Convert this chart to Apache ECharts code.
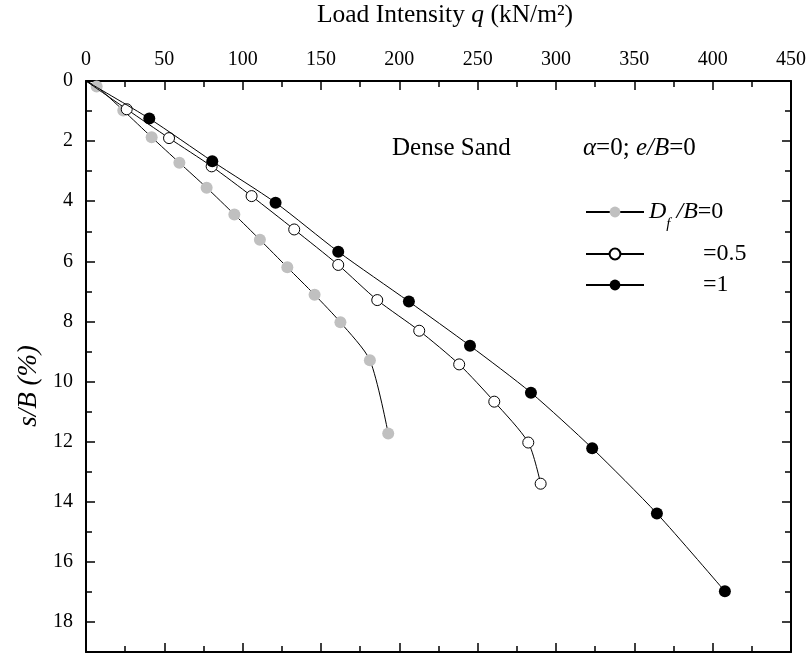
<!DOCTYPE html>
<html>
<head>
<meta charset="utf-8">
<script src="https://cdn.jsdelivr.net/npm/echarts@6/dist/echarts.min.js"></script>
<style>
html,body{margin:0;padding:0;background:#fff;}
#chart{width:812px;height:655px;}
</style>
</head>
<body>
<div id="chart"></div>
<script>
// ---- data ----
var seriesNames = ['Df/B=0', 'Df/B=0.5', 'Df/B=1'];
var qDf0  = [0, 6.8, 23.8, 41.9, 59.6, 77.0, 94.7, 111.0, 128.5, 145.9, 162.4, 181.2, 192.9];
var sDf0  = [0, 0.18, 0.98, 1.87, 2.72, 3.55, 4.44, 5.28, 6.20, 7.11, 8.03, 9.29, 11.73];
var qDf05 = [0, 26.0, 53.0, 80.2, 105.7, 132.9, 161.0, 185.9, 212.7, 238.2, 260.6, 282.3, 290.2];
var sDf05 = [0, 0.94, 1.90, 2.84, 3.83, 4.94, 6.12, 7.29, 8.31, 9.43, 10.67, 12.03, 13.40];
var qDf1  = [0, 40.4, 80.6, 121.0, 161.0, 206.1, 245.1, 284.0, 323.1, 364.4, 407.8];
var sDf1  = [0, 1.25, 2.67, 4.05, 5.68, 7.34, 8.81, 10.37, 12.22, 14.39, 16.98];
var xTicks = {min: 0, max: 450, interval: 50};
var yTicks = {min: 0, max: 19, interval: 2};
var xTitle = 'Load Intensity ';
var yTitle = 's/B (%)';

var FONT = '"Liberation Serif", "Times New Roman", serif';

function pairs(qs, ss) {
  return qs.map(function (q, i) {
    if (i === 0) return {value: [q, ss[i]], symbol: 'none'};
    return [q, ss[i]];
  });
}

var chart = echarts.init(document.getElementById('chart'), null, {renderer: 'canvas'});

var tickCommon = {
  axisLine: {show: true, onZero: false, lineStyle: {color: '#000', width: 2}},
  axisTick: {show: true, inside: true, length: 9, lineStyle: {color: '#000', width: 1.5}},
  minorTick: {show: true, splitNumber: 2, length: 6, lineStyle: {color: '#000', width: 1.5}},
  splitLine: {show: false}
};

function legendFor(idx, left, top, fmt) {
  return {
    show: true,
    data: [seriesNames[idx]],
    left: left, top: top,
    orient: 'vertical',
    padding: 0,
    itemWidth: 58,
    itemHeight: 13.5,
    itemGap: 0,
    selectedMode: false,
    textStyle: {
      fontFamily: FONT, fontSize: 24, color: '#000',
      rich: {
        i: {fontFamily: FONT, fontSize: 24, fontStyle: 'italic', color: '#000'},
        n: {fontFamily: FONT, fontSize: 24, color: '#000'},
        sub: {fontFamily: FONT, fontSize: 15, fontStyle: 'italic', color: '#000', padding: [24, 0, 0, 0]},
        pad: {width: 54}
      }
    },
    formatter: function () { return fmt; }
  };
}

var option = {
  backgroundColor: '#fff',
  animation: false,
  grid: {left: 86, right: 21, top: 81, bottom: 3, containLabel: false},
  xAxis: [
    Object.assign({
      type: 'value', position: 'top',
      min: xTicks.min, max: xTicks.max, interval: xTicks.interval,
      axisLabel: {show: true, margin: 11, fontFamily: FONT, fontSize: 20, color: '#000'}
    }, tickCommon),
    Object.assign({
      type: 'value', position: 'bottom',
      min: xTicks.min, max: xTicks.max, interval: xTicks.interval,
      axisLabel: {show: false}
    }, tickCommon)
  ],
  yAxis: [
    Object.assign({
      type: 'value', position: 'left', inverse: true,
      min: yTicks.min, max: yTicks.max, interval: yTicks.interval,
      axisLabel: {show: true, margin: 13, fontFamily: FONT, fontSize: 20, color: '#000', showMaxLabel: false,
        formatter: function (v) { return (v % 2 === 0) ? String(v) : ''; }}
    }, tickCommon),
    Object.assign({
      type: 'value', position: 'right', inverse: true,
      min: yTicks.min, max: yTicks.max, interval: yTicks.interval,
      axisLabel: {show: false}
    }, tickCommon)
  ],
  legend: [
    legendFor(0, 585, 200, '{i|D}{sub|f}{i| /B}{n|=0}'),
    legendFor(1, 585, 242, '{pad|}{n|=0.5}'),
    legendFor(2, 585, 273, '{pad|}{n|=1}')
  ],
  series: [
    {
      name: seriesNames[0], type: 'line', xAxisIndex: 0, yAxisIndex: 0,
      data: pairs(qDf0, sDf0), smooth: 0.25,
      symbol: 'circle', symbolSize: 12,
      lineStyle: {color: '#000', width: 1},
      itemStyle: {color: '#c0c0c0', borderWidth: 0},
      z: 2
    },
    {
      name: seriesNames[1], type: 'line', xAxisIndex: 0, yAxisIndex: 0,
      data: pairs(qDf05, sDf05), smooth: 0.25,
      symbol: 'circle', symbolSize: 11,
      lineStyle: {color: '#000', width: 1},
      itemStyle: {color: '#fff', borderColor: '#000', borderWidth: 1},
      z: 3
    },
    {
      name: seriesNames[2], type: 'line', xAxisIndex: 0, yAxisIndex: 0,
      data: pairs(qDf1, sDf1), smooth: 0.25,
      symbol: 'circle', symbolSize: 12,
      lineStyle: {color: '#000', width: 1},
      itemStyle: {color: '#000', borderWidth: 0},
      z: 4
    }
  ],
  graphic: [
    {
      type: 'text', x: 445, y: 15,
      style: {
        text: '{a|' + xTitle + '}{i|q}{a| (kN/m²)}',
        rich: {
          a: {fontFamily: FONT, fontSize: 25.5, fill: '#000'},
          i: {fontFamily: FONT, fontSize: 25.5, fontStyle: 'italic', fill: '#000'}
        },
        align: 'center', verticalAlign: 'middle'
      }
    },
    {
      type: 'text', x: 29, y: 386, rotation: Math.PI / 2,
      style: {
        text: yTitle, fontFamily: FONT, fontSize: 27, fontStyle: 'italic', fill: '#000',
        align: 'center', verticalAlign: 'middle'
      }
    },
    {
      type: 'text', x: 392, y: 148,
      style: {
        text: 'Dense Sand', fontFamily: FONT, fontSize: 25, fill: '#000',
        align: 'left', verticalAlign: 'middle'
      }
    },
    {
      type: 'text', x: 583, y: 148,
      style: {
        text: '{i|α}{n|=0; }{i|e/B}{n|=0}',
        rich: {
          i: {fontFamily: FONT, fontSize: 25, fontStyle: 'italic', fill: '#000'},
          n: {fontFamily: FONT, fontSize: 25, fill: '#000'}
        },
        align: 'left', verticalAlign: 'middle'
      }
    }
  ]
};
chart.setOption(option);
</script>
</body>
</html>
